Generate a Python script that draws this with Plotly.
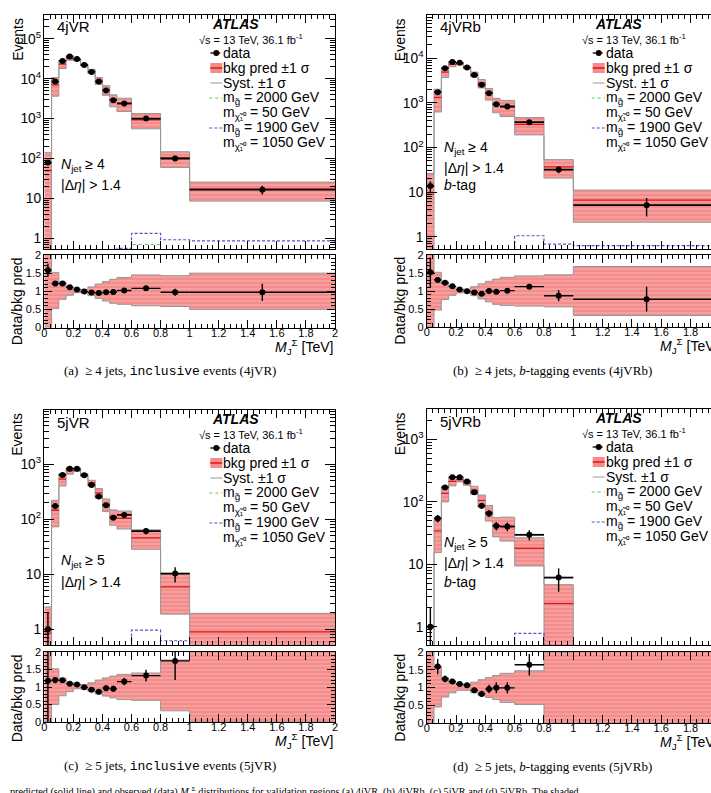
import numpy as np
import plotly.graph_objects as go

W, H = 711, 793

# ---------------- data ----------------
edges = [0.0, 0.05, 0.10, 0.15, 0.20, 0.25, 0.30, 0.35, 0.40, 0.45, 0.50, 0.60, 0.80, 1.00, 2.00]

regions = ["4jVR", "4jVRb", "5jVR", "5jVRb"]

data_4jVR = [79, 8500, 28000, 36000, 31000, 22000, 14800, 8500, 5100, 2900, 2400, 1000, 100, 16.6]
bkg_4jVR = [50, 7020, 23100, 32400, 29500, 22200, 15300, 8950, 5260, 2960, 2350, 926, 103, 17.1]
up_4jVR = [2.8, 1.52, 1.25, 1.12, 1.04, 1.05, 1.12, 1.20, 1.27, 1.33, 1.38, 1.45, 1.43, 1.50]
dn_4jVR = [0.0, 0.52, 0.78, 0.89, 0.96, 0.95, 0.88, 0.80, 0.73, 0.67, 0.64, 0.60, 0.58, 0.50]
sig2000_4jVR = [0.01, 0.01, 0.01, 0.01, 0.01, 0.01, 0.01, 0.01, 0.01, 0.01, 0.01, 0.70, 0.01, 0.01]
sig1900_4jVR = [0.01, 0.01, 0.01, 0.01, 0.01, 0.01, 0.01, 0.01, 0.01, 0.01, 0.56, 1.33, 0.92, 0.86]

data_4jVRb = [13.7, 1740, 6000, 8300, 7900, 6200, 4200, 2550, 1650, 930, 830, 370, 32, 5.1]
bkg_4jVRb = [9.0, 1330, 4880, 7350, 7600, 6260, 4380, 2770, 1650, 950, 822, 330, 36.8, 6.6]
up_4jVRb = [2.9, 1.52, 1.25, 1.13, 1.05, 1.05, 1.12, 1.20, 1.27, 1.33, 1.38, 1.42, 1.45, 1.68]
dn_4jVRb = [0.0, 0.47, 0.76, 0.88, 0.95, 0.95, 0.87, 0.78, 0.70, 0.63, 0.60, 0.58, 0.56, 0.32]
sig2000_4jVRb = [0.01, 0.01, 0.01, 0.01, 0.01, 0.01, 0.01, 0.01, 0.01, 0.01, 0.01, 0.01, 0.01, 0.01]
sig1900_4jVRb = [0.01, 0.01, 0.01, 0.01, 0.01, 0.01, 0.01, 0.01, 0.01, 0.01, 0.01, 1.05, 0.68, 0.63]

data_5jVR = [1, 175, 640, 830, 830, 635, 420, 260, 180, 107, 120, 61, 10.3, None]
bkg_5jVR = [0.85, 146, 538, 761, 776, 641, 457, 302, 186, 113, 104, 46, 5.9, 0.9]
up_5jVR = [3.0, 1.52, 1.25, 1.13, 1.05, 1.06, 1.12, 1.20, 1.26, 1.31, 1.36, 1.40, 1.77, 2.17]
dn_5jVR = [0.0, 0.50, 0.75, 0.87, 0.95, 0.94, 0.88, 0.80, 0.74, 0.69, 0.64, 0.62, 0.32, 0.0]
sig2000_5jVR = [0.01, 0.01, 0.01, 0.01, 0.01, 0.01, 0.01, 0.01, 0.01, 0.01, 0.01, 0.01, 0.01, 0.01]
sig1900_5jVR = [0.01, 0.01, 0.01, 0.01, 0.01, 0.01, 0.01, 0.01, 0.01, 0.01, 0.01, 0.97, 0.62, 0.01]

data_5jVRb = [1, 54, 169, 247, 247, 211, 141, 86, 65, 41, 40, 29.5, 6.1, None]
bkg_5jVRb = [0.1, 34, 136, 211, 225, 199, 153, 105, 68, 41.4, 40.4, 18, 2.35, 0.2]
up_5jVRb = [5.0, 1.58, 1.27, 1.16, 1.08, 1.08, 1.15, 1.22, 1.28, 1.34, 1.40, 1.47, 2.0, 2.5]
dn_5jVRb = [0.0, 0.45, 0.73, 0.85, 0.92, 0.92, 0.85, 0.78, 0.72, 0.66, 0.58, 0.52, 0.0, 0.0]
sig2000_5jVRb = [0.01, 0.01, 0.01, 0.01, 0.01, 0.01, 0.01, 0.01, 0.01, 0.01, 0.01, 0.01, 0.01, 0.01]
sig1900_5jVRb = [0.01, 0.01, 0.01, 0.01, 0.01, 0.01, 0.01, 0.01, 0.01, 0.01, 0.01, 0.78, 0.01, 0.01]

njet_labels = ["4", "4", "5", "5"]
btag = [False, True, False, True]
captions = [
    "(a)  ≥ 4 jets, <span style='font-family:Liberation Mono, Courier New, monospace'>inclusive</span> events (4jVR)",
    "(b)  ≥ 4 jets, <i>b</i>-tagging events (4jVRb)",
    "(c)  ≥ 5 jets, <span style='font-family:Liberation Mono, Courier New, monospace'>inclusive</span> events (5jVR)",
    "(d)  ≥ 5 jets, <i>b</i>-tagging events (5jVRb)",
]
footer = ("predicted (solid line) and observed (data) <i>M</i><sub>J</sub><sup>Σ</sup> distributions for validation "
          "regions (a) 4jVR, (b) 4jVRb, (c) 5jVR and (d) 5jVRb. The shaded")

series = {
    "4jVR": (data_4jVR, bkg_4jVR, up_4jVR, dn_4jVR, sig2000_4jVR, sig1900_4jVR),
    "4jVRb": (data_4jVRb, bkg_4jVRb, up_4jVRb, dn_4jVRb, sig2000_4jVRb, sig1900_4jVRb),
    "5jVR": (data_5jVR, bkg_5jVR, up_5jVR, dn_5jVR, sig2000_5jVR, sig1900_5jVR),
    "5jVRb": (data_5jVRb, bkg_5jVRb, up_5jVRb, dn_5jVRb, sig2000_5jVRb, sig1900_5jVRb),
}

# ---------------- layout geometry (pixels) ----------------
panels = [
    dict(L=44.3, R=335.0, T=15, B=249, RT=255, RB=327.5, ppt=145.35, ylog=[-0.268, 5.597], full=True,
         nj=[150, 170], cap=(170, 371)),
    dict(L=426.7, R=711.0, T=15, B=249, RT=255, RB=327.0, ppt=146.6, ylog=[-0.276, 4.97], full=False,
         nj=[133, 153, 170], cap=(552, 370)),
    dict(L=44.3, R=335.0, T=410, B=645, RT=652, RB=722, ppt=145.35, ylog=[-0.285, 3.987], full=True,
         nj=[151, 172], cap=(170, 766)),
    dict(L=426.7, R=711.0, T=409, B=645, RT=652, RB=723, ppt=146.6, ylog=[-0.293, 3.483], full=False,
         nj=[134, 154, 173], cap=(552, 766)),
]

SANS = "Liberation Sans, Arial, Helvetica, sans-serif"
SERIF = "Liberation Serif, Times New Roman, serif"
BAND_BG = "rgb(245,140,140)"
BAND_FG = "rgb(251,192,192)"
GREY = "rgb(150,150,150)"
RED = "rgb(225,20,20)"
GREEN = "rgb(90,200,90)"
BLUE = "rgb(80,80,215)"


def px(x):
    return x / W


def py(y):
    return 1 - y / H


def aid(n):
    return "" if n == 1 else str(n)


edges_a = np.array(edges)
centers = 0.5 * (edges_a[:-1] + edges_a[1:])
halfw = 0.5 * (edges_a[1:] - edges_a[:-1])


def step(vals):
    v = list(vals)
    return list(edges), v + [v[-1]]


def flat(vals):
    xs, ys = [], []
    for k, v in enumerate(vals):
        xs += [edges[k], edges[k + 1], None]
        ys += [v, v, None]
    return xs, ys


fig = go.Figure()
layout = dict(
    width=W, height=H, margin=dict(l=0, r=0, t=0, b=0, autoexpand=False),
    paper_bgcolor="white", plot_bgcolor="white", showlegend=False,
    font=dict(family=SANS, color="black", size=11),
)
annotations = []
shapes = []

for i, (reg, p) in enumerate(zip(regions, panels)):
    data, bkg, up, dn, s2000, s1900 = series[reg]
    bkg_a = np.array(bkg, dtype=float)
    up_a = np.array(up, dtype=float)
    dn_a = np.array(dn, dtype=float)
    nm, nr = 2 * i + 1, 2 * i + 2
    xmax = (p["R"] - p["L"]) / p["ppt"]

    common_x = dict(range=[0, xmax], tick0=0, dtick=0.2, ticks="inside", ticklen=8, tickcolor="black",
                    minor=dict(tick0=0, dtick=0.04, ticks="inside", ticklen=4, tickcolor="black"),
                    showline=True, linecolor="black", linewidth=1, mirror="allticks",
                    showgrid=False, zeroline=False, domain=[px(p["L"]), px(p["R"])])
    layout["xaxis" + aid(nm)] = dict(common_x, anchor="y" + aid(nm), showticklabels=False)
    layout["xaxis" + aid(nr)] = dict(common_x, anchor="y" + aid(nr), showticklabels=True,
                                     ticklabelstandoff=-5,
                                     tickfont=dict(size=11, family=SANS), matches="x" + aid(nm))
    ymirror = "allticks" if p["full"] else False
    layout["yaxis" + aid(nm)] = dict(type="log", range=p["ylog"], dtick=1, exponentformat="power",
                                     ticks="inside", ticklen=10, tickcolor="black",
                                     minor=dict(ticks="inside", ticklen=5, dtick="D1", tickcolor="black"),
                                     showline=True, linecolor="black", linewidth=1, mirror=ymirror,
                                     showgrid=False, zeroline=False, anchor="x" + aid(nm),
                                     domain=[py(p["B"]), py(p["T"])], tickfont=dict(size=11, family=SANS))
    layout["yaxis" + aid(nr)] = dict(range=[0, 2], tick0=0, dtick=0.5, ticks="inside", ticklen=8,
                                     tickcolor="black",
                                     minor=dict(tick0=0, dtick=0.1, ticks="inside", ticklen=4, tickcolor="black"),
                                     showline=True, linecolor="black", linewidth=1, mirror=ymirror,
                                     showgrid=False, zeroline=False, anchor="x" + aid(nr),
                                     domain=[py(p["RB"]), py(p["RT"])], tickfont=dict(size=11, family=SANS))

    xm, ym = "x" + aid(nm), "y" + aid(nm)
    xr, yr = "x" + aid(nr), "y" + aid(nr)

    # ---- main: band ----
    ex, hi = step(bkg_a * up_a)
    _, lo = step(np.maximum(bkg_a * dn_a, 1e-3))
    fig.add_trace(go.Scatter(x=ex, y=hi, xaxis=xm, yaxis=ym, mode="lines", line=dict(color=GREY, width=1, shape="hv"),
                             hoverinfo="skip"))
    fig.add_trace(go.Scatter(x=ex, y=lo, xaxis=xm, yaxis=ym, mode="lines", line=dict(color=GREY, width=1, shape="hv"),
                             fill="tonexty", fillcolor=BAND_BG,
                             fillpattern=dict(shape="-", bgcolor=BAND_BG, fgcolor=BAND_FG, size=4, solidity=0.35),
                             hoverinfo="skip"))
    cx, cy = flat(bkg_a)
    fig.add_trace(go.Scatter(x=cx, y=cy, xaxis=xm, yaxis=ym, mode="lines", line=dict(color=RED, width=1.3),
                             connectgaps=False, hoverinfo="skip"))
    # signals
    ex, g = step(s2000)
    fig.add_trace(go.Scatter(x=ex, y=g, xaxis=xm, yaxis=ym, mode="lines",
                             line=dict(color=GREEN, width=1, shape="hv", dash="dot"), hoverinfo="skip"))
    _, b = step(s1900)
    fig.add_trace(go.Scatter(x=ex, y=b, xaxis=xm, yaxis=ym, mode="lines",
                             line=dict(color=BLUE, width=1.2, shape="hv", dash="3px,2px"), hoverinfo="skip"))
    # data
    dvals = [np.nan if d is None else float(d) for d in data]
    dv = np.array(dvals)
    derr = np.sqrt(dv)
    derr_lo = np.minimum(derr, dv * 0.99)
    fig.add_trace(go.Scatter(x=centers, y=dv, xaxis=xm, yaxis=ym, mode="markers",
                             marker=dict(color="black", size=6),
                             error_y=dict(type="data", array=derr, arrayminus=derr_lo, color="black", thickness=1.4, width=0),
                             error_x=dict(type="data", array=halfw, color="black", thickness=1.8, width=0),
                             hoverinfo="skip"))

    # ---- ratio ----
    ex, rhi = step(up_a)
    _, rlo = step(dn_a)
    fig.add_trace(go.Scatter(x=ex, y=rhi, xaxis=xr, yaxis=yr, mode="lines", line=dict(color=GREY, width=1, shape="hv"),
                             hoverinfo="skip"))
    fig.add_trace(go.Scatter(x=ex, y=rlo, xaxis=xr, yaxis=yr, mode="lines", line=dict(color=GREY, width=1, shape="hv"),
                             fill="tonexty", fillcolor=BAND_BG,
                             fillpattern=dict(shape="-", bgcolor=BAND_BG, fgcolor=BAND_FG, size=4, solidity=0.35),
                             hoverinfo="skip"))
    ratio = dv / bkg_a
    rerr = derr / bkg_a
    mask = ratio > 2.2
    ratio = np.where(mask, np.nan, ratio)
    fig.add_trace(go.Scatter(x=centers, y=ratio, xaxis=xr, yaxis=yr, mode="markers",
                             marker=dict(color="black", size=6),
                             error_y=dict(type="data", array=rerr, color="black", thickness=1.4, width=0),
                             error_x=dict(type="data", array=halfw, color="black", thickness=1.4, width=0),
                             hoverinfo="skip"))

    # ---- texts ----
    L, T = p["L"], p["T"]
    annotations.append(dict(text=reg, x=px(L + 11), y=py(T + 12), xanchor="left", yanchor="middle",
                            font=dict(size=15)))
    annotations.append(dict(text="<b><i>ATLAS</i></b>", x=px(L + 166), y=py(T + 9), xanchor="left",
                            yanchor="middle", font=dict(size=14)))
    annotations.append(dict(text="√s = 13 TeV, 36.1 fb<sup>-1</sup>", x=px(L + 153), y=py(T + 24), xanchor="left",
                            yanchor="middle", font=dict(size=11)))
    rows = [38, 53, 68, 83, 98, 113, 128]
    leg_txt = ["data", "bkg pred ±1 σ", "Syst. ±1 σ",
               "m<sub>g̃</sub> = 2000 GeV", "m<sub>χ̃₁⁰</sub> = 50 GeV",
               "m<sub>g̃</sub> = 1900 GeV", "m<sub>χ̃₁⁰</sub> = 1050 GeV"]
    for r, t in zip(rows, leg_txt):
        annotations.append(dict(text=t, x=px(L + 177), y=py(T + r), xanchor="left", yanchor="middle",
                                font=dict(size=14)))
    # legend symbols
    y0 = T + rows[0]
    shapes.append(dict(type="line", xref="paper", yref="paper", x0=px(L + 166), x1=px(L + 176), y0=py(y0), y1=py(y0),
                       line=dict(color="black", width=1.3)))
    shapes.append(dict(type="circle", xref="paper", yref="paper", x0=px(L + 169), x1=px(L + 175),
                       y0=py(y0 + 3), y1=py(y0 - 3), fillcolor="black", line=dict(width=0)))
    y1 = T + rows[1]
    shapes.append(dict(type="rect", xref="paper", yref="paper", x0=px(L + 166), x1=px(L + 178),
                       y0=py(y1 + 5), y1=py(y1 - 5), fillcolor=BAND_BG, line=dict(width=0)))
    shapes.append(dict(type="line", xref="paper", yref="paper", x0=px(L + 166), x1=px(L + 178), y0=py(y1), y1=py(y1),
                       line=dict(color=RED, width=1.5)))
    y2 = T + rows[2]
    shapes.append(dict(type="line", xref="paper", yref="paper", x0=px(L + 166), x1=px(L + 178), y0=py(y2), y1=py(y2),
                       line=dict(color=GREY, width=1)))
    y3 = T + rows[3]
    shapes.append(dict(type="line", xref="paper", yref="paper", x0=px(L + 165), x1=px(L + 178), y0=py(y3), y1=py(y3),
                       line=dict(color=GREEN, width=1, dash="dot")))
    y5 = T + rows[5]
    shapes.append(dict(type="line", xref="paper", yref="paper", x0=px(L + 165), x1=px(L + 178), y0=py(y5), y1=py(y5),
                       line=dict(color=BLUE, width=1.2, dash="3px,2px")))

    # selection text
    sel = ["<i>N</i><sub>jet</sub> ≥ " + njet_labels[i], "|Δ<i>η</i>| > 1.4"]
    if btag[i]:
        sel.append("<i>b</i>-tag")
    for yy, t in zip(p["nj"], sel):
        annotations.append(dict(text=t, x=px(L + 15), y=py(T + yy), xanchor="left", yanchor="middle",
                                font=dict(size=14)))

    # axis titles
    annotations.append(dict(text="Events", x=px(L - 27), y=py(T + 1), xanchor="center", yanchor="top",
                            textangle=-90, font=dict(size=14)))
    annotations.append(dict(text="Data/bkg pred", x=px(L - 27), y=py(p["RT"]), xanchor="center", yanchor="top",
                            textangle=-90, font=dict(size=14)))
    annotations.append(dict(text="<i>M</i><sub>J</sub><sup>Σ</sup> [TeV]", x=px(L + 2 * p["ppt"]),
                            y=py(p["RB"] + 19), xanchor="right", yanchor="middle", font=dict(size=14)))
    # caption
    annotations.append(dict(text=captions[i], x=px(p["cap"][0]), y=py(p["cap"][1]), xanchor="center",
                            yanchor="middle", font=dict(size=13, family=SERIF)))

annotations.append(dict(text=footer, x=px(581), y=py(792), xanchor="right", yanchor="middle",
                        font=dict(size=10.2, family=SERIF)))

for a in annotations:
    a.setdefault("xref", "paper")
    a.setdefault("yref", "paper")
    a.setdefault("showarrow", False)

layout["annotations"] = annotations
layout["shapes"] = shapes
fig.update_layout(**layout)
fig.write_html("out.html")
